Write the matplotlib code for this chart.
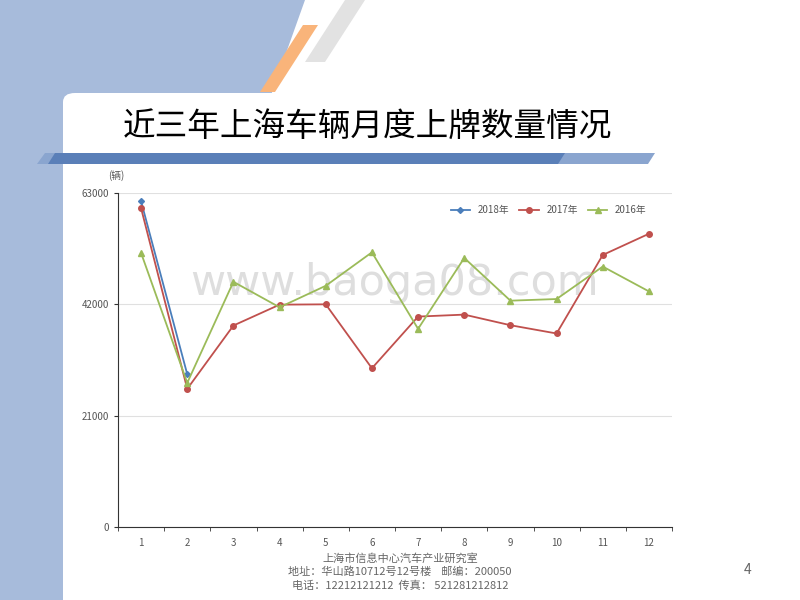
import matplotlib
matplotlib.use("Agg")
import matplotlib.pyplot as plt
from matplotlib.patches import Polygon, FancyBboxPatch

plt.rcParams["font.family"] = ["Noto Sans CJK SC", "DejaVu Sans"]

months = list(range(1, 13))
s2018 = [61440, 28810]
s2017 = [60125, 26060, 38000, 41940, 42000, 29940, 39690, 40060, 38060, 36500, 51310, 55310]
s2016 = [51690, 27190, 46250, 41440, 45500, 51810, 37375, 50750, 42690, 43000, 49125, 44440]
yticks = [0, 21000, 42000, 63000]

W, H = 800, 600
fig = plt.figure(figsize=(8, 6), dpi=100)
fig.patch.set_facecolor("white")

def px(pts):
    return [(x / W, 1 - y / H) for x, y in pts]

# slide decorations
fig.patches.append(Polygon(px([(0, 0), (305, 0), (255, 140), (0, 140)]), closed=True,
                           transform=fig.transFigure, fc="#a7bbdb", ec="none"))
fig.patches.append(FancyBboxPatch((63 / W, 0.02), (W - 63) / W, 1 - 93 / H - 0.02,
                                  boxstyle="round,pad=0,rounding_size=0.015",
                                  transform=fig.transFigure, fc="white", ec="none"))
fig.patches.append(Polygon(px([(0, 140), (63, 140), (63, 600), (0, 600)]), closed=True,
                           transform=fig.transFigure, fc="#a7bbdb", ec="none"))
fig.patches.append(Polygon(px([(303, 25), (318, 25), (275, 92), (260, 92)]), closed=True,
                           transform=fig.transFigure, fc="#f9b47a", ec="none"))
fig.patches.append(Polygon(px([(345, 0), (365, 0), (325, 62), (305, 62)]), closed=True,
                           transform=fig.transFigure, fc="#e2e2e2", ec="none"))
fig.patches.append(Polygon(px([(45, 153), (655, 153), (648, 164), (37, 164)]), closed=True,
                           transform=fig.transFigure, fc="#8aa5cf", ec="none"))
fig.patches.append(Polygon(px([(55, 153), (565, 153), (558, 164), (48, 164)]), closed=True,
                           transform=fig.transFigure, fc="#5a7fb8", ec="none"))

fig.text(123 / W, 1 - 127 / H, "近三年上海车辆月度上牌数量情况", fontsize=23.5,
         fontweight="medium", va="center", ha="left")

ax = fig.add_axes([118 / W, 1 - 527 / H, (672 - 118) / W, (527 - 193) / H])
ax.set_zorder(5)
ax.set_facecolor("none")
ax.text(0.13, 0.73, "www.baoga08.com", fontsize=31, color="#d0d0d0", alpha=0.7,
        va="center", ha="left", transform=ax.transAxes, fontfamily="DejaVu Sans", zorder=0)
ax.plot(months[:2], s2018, color="#4a7ebb", marker="D", ms=3, lw=1.3, label="2018年")
ax.plot(months, s2017, color="#c0504d", marker="o", ms=4, lw=1.3, label="2017年")
ax.plot(months, s2016, color="#9bbb59", marker="^", ms=5, lw=1.3, label="2016年")
ax.set_xlim(0.55, 12.45)
ax.set_ylim(0, 63000)
ax.set_yticks(yticks)
ax.set_yticklabels([str(v) for v in yticks], fontsize=7, color="#555555")
ax.set_xticks(months)
ax.set_xticklabels([str(m) for m in months], fontsize=7, color="#555555")
ax.set_xticks([m + 0.5 for m in range(0, 13)], minor=True)
ax.tick_params(axis="x", which="major", length=0, pad=8)
ax.tick_params(axis="x", which="minor", length=3, color="#333333")
ax.tick_params(axis="y", length=3, color="#333333")
ax.grid(axis="y", color="#e0e0e0", lw=0.8)
ax.set_axisbelow(True)
for s in ["top", "right"]:
    ax.spines[s].set_visible(False)
ax.spines["left"].set_color("#333333")
ax.spines["bottom"].set_color("#333333")
ax.legend(loc="upper right", ncol=3, frameon=False, fontsize=7, bbox_to_anchor=(0.97, 0.99),
          handlelength=2, columnspacing=1.0, labelcolor="#555555")
fig.text(108 / W, 1 - 176 / H, "(辆)", fontsize=7, color="#555555", va="center")

fig.text(400 / W, 1 - 558 / H, "上海市信息中心汽车产业研究室", fontsize=8, color="#666666", ha="center", va="center")
fig.text(400 / W, 1 - 572 / H, "地址：华山路10712号12号楼    邮编：200050", fontsize=8, color="#666666", ha="center", va="center")
fig.text(400 / W, 1 - 586 / H, "电话：12212121212  传真： 521281212812", fontsize=8, color="#666666", ha="center", va="center")
fig.text(748 / W, 1 - 570 / H, "4", fontsize=10, color="#666666", ha="center", va="center")

fig.savefig("out.png", dpi=100)
